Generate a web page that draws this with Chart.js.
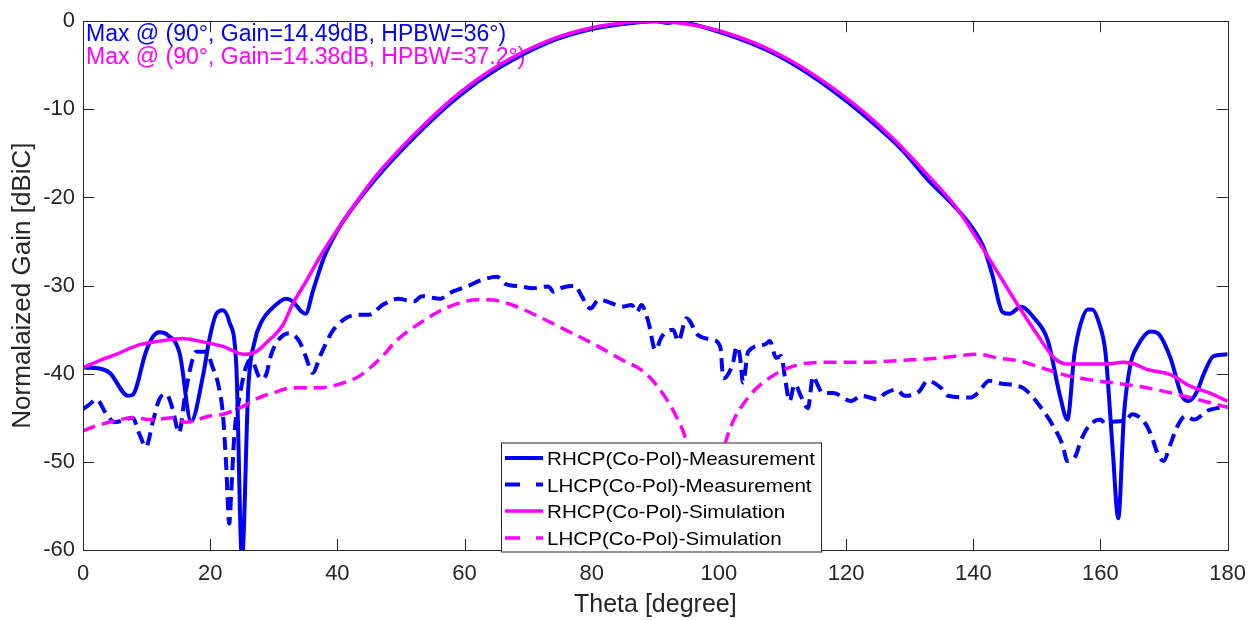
<!DOCTYPE html>
<html lang="en">
<head>
  <meta charset="UTF-8" />
  <title>Normalized Gain vs Theta</title>
  <script src="https://cdn.jsdelivr.net/npm/chart.js"></script>
  <style>
    body { margin: 0; background: #fff; }
    .wrap { width: 1257px; height: 620px; position: relative; }
  </style>
</head>
<body>
  <div class="wrap"><canvas id="gainChart"></canvas></div>
  <script>
    // values (theta in degree, gain in dB)
    const thetaRhcpMeas = [0, 2.6, 4.2, 7.1, 7.8, 9.9, 11, 12, 13.3, 15.2, 17, 18.8, 19.9, 20.9, 22, 23, 24.1, 25, 26, 27, 28, 30.3, 31.9, 33, 34.3, 35, 36.2, 37.9, 39.5, 41, 46, 52.3, 59.1, 65.4, 73.2, 80, 86.3, 90, 92, 93, 100, 109.3, 118.7, 127.1, 129.2, 132.8, 136.5, 139.6, 141.7, 143, 144.6, 145.7, 147.5, 149.6, 151.7, 153.7, 154.8, 155.9, 156.9, 158, 158.7, 159.8, 160.8, 161.9, 162.8, 163.7, 164.7, 165.8, 167.9, 169, 171, 172.8, 173.9, 175.2, 176.2, 177.8, 180];
    const gainRhcpMeas = [-39.3, -39.4, -39.9, -42.5, -42.4, -37.5, -35.8, -35.3, -35.6, -37.7, -45.4, -40.5, -36, -33.3, -32.8, -34.1, -39, -61, -41.5, -36.3, -34.2, -32.2, -31.5, -31.8, -32.9, -33.2, -30.5, -26.8, -24.4, -22.6, -17.9, -13, -8.5, -5.3, -2.4, -0.9, -0.2, 0, -0.2, -0.1, -1.2, -3.9, -8.3, -13.4, -14.9, -17.95, -20.6, -23.2, -25.8, -28.8, -33, -33.2, -32.4, -33.7, -36.2, -42.7, -45.2, -37.8, -34.3, -32.7, -32.7, -34.3, -37.7, -48.4, -56.4, -44.6, -39, -36.9, -35.2, -35.4, -38.2, -42.5, -43.1, -42, -40.1, -38, -37.8];

    const thetaLhcpMeas = [0, 1, 2.1, 3.7, 5, 5.8, 7.8, 8.9, 9.9, 11, 12, 13.1, 14.1, 15.1, 16, 17, 17.8, 19.4, 20.4, 21.2, 22, 22.5, 23, 23.3, 23.8, 24.6, 25.6, 26.4, 28, 28.8, 29.6, 30.6, 32.4, 34, 35, 36.1, 37.4, 39.2, 41.3, 43.4, 45, 47.1, 49.5, 52, 53.3, 56.2, 57.5, 60.7, 62.2, 65.1, 66.4, 69, 70.6, 73.2, 74, 75, 77.4, 78.2, 79.8, 81.1, 83.1, 84.7, 86.3, 87.1, 87.8, 88.9, 90, 91, 92.8, 93.6, 94.9, 96.7, 98.8, 100.2, 100.7, 102.2, 102.8, 103.3, 103.8, 104.6, 107.2, 108, 109, 109.8, 110.4, 111.1, 111.9, 113, 114, 114.8, 115, 116.4, 118, 120.8, 122.4, 125, 126, 127.9, 129.2, 131.5, 132.8, 134.9, 136, 139.6, 140.7, 142.5, 144.3, 147.5, 148.5, 150.6, 152.7, 154, 154.8, 156.1, 156.9, 158.2, 160, 160.8, 161.3, 163.9, 165, 167.1, 168.1, 168.9, 169.9, 171, 172, 173.4, 174.7, 176.8, 178.3, 180];
    const gainLhcpMeas = [-44, -43.5, -42.9, -44.6, -45.5, -45.4, -45, -46.9, -48.3, -45.4, -42.9, -42.3, -44, -46.7, -42.7, -39, -37.5, -37.5, -39.3, -41, -44.6, -50.2, -57, -53.6, -46.9, -42.7, -39.3, -38.4, -40.6, -40.1, -37.8, -36.3, -35.4, -36.3, -38, -39.9, -37.8, -35.2, -33.7, -33.3, -33.3, -32.2, -31.5, -31.8, -31.2, -31.5, -30.9, -30, -29.5, -29, -29.8, -30.1, -30.3, -30.1, -30.7, -30.3, -30, -30.9, -32.6, -31.6, -32, -32.4, -32.2, -33, -32.2, -34.1, -37.3, -35.8, -35, -36.3, -33.7, -35.6, -36.1, -36.9, -40.5, -38.8, -36.9, -38, -41, -37.5, -36.7, -36.3, -38.2, -38, -40.5, -43.1, -41.2, -42.7, -43.9, -40.3, -40.5, -42.2, -42.2, -43.1, -42.5, -42.9, -42.3, -41.8, -42.5, -42, -40.8, -41.6, -42.5, -42.7, -42.2, -40.8, -41.1, -41.5, -42, -43.8, -46.1, -48, -49.9, -49.3, -47.6, -45.9, -45.2, -45.7, -45.5, -45.3, -44.6, -45.7, -47.2, -48.9, -49.9, -48, -46.1, -44.8, -45.2, -44.2, -43.9, -43.8];

    const thetaRhcpSim = [0, 2.6, 5.2, 8.9, 12, 15.7, 18.3, 22, 25.4, 27.2, 28.8, 31.4, 32.9, 35, 37.7, 40.8, 46, 52.3, 59.1, 65.4, 73.2, 80, 86.3, 90, 92.6, 99.9, 109.3, 118.7, 127.1, 133.4, 137.5, 142.2, 147, 150.1, 152.7, 154.8, 160.6, 163.7, 165.3, 167.3, 171, 174.1, 176.8, 180];
    const gainRhcpSim = [-39.3, -38.5, -37.8, -36.7, -36.3, -36, -36.3, -36.9, -37.8, -37.5, -36.5, -34.5, -32.2, -29.6, -26.2, -22.8, -17.6, -12.7, -8.2, -5, -2.2, -0.75, -0.1, 0, -0.1, -1.06, -3.7, -8, -13.1, -17.9, -21.3, -26.6, -32.2, -35.6, -38.2, -38.9, -38.9, -38.7, -38.9, -39.5, -40.1, -41.4, -42.1, -43.1];

    const thetaLhcpSim = [0, 2.1, 4.7, 7.8, 11, 14.1, 16.2, 19.9, 22, 24.6, 27.7, 29.8, 32.9, 37.1, 39.2, 41.8, 43.4, 47.1, 49.2, 53.3, 57.5, 62.2, 63.8, 67.5, 71.6, 75.8, 80.5, 84.7, 88.4, 91.5, 93.6, 94.6, 96, 97.5, 99.5, 101.7, 104.6, 108.3, 112.4, 116.6, 122.9, 128.6, 134.9, 140.7, 143.8, 147.5, 150.6, 155.3, 159.5, 165.8, 170, 175.2, 178.3, 180];
    const gainLhcpSim = [-46.5, -45.9, -45.4, -45, -45.2, -45, -45.5, -44.8, -44.6, -43.9, -42.7, -42.2, -41.6, -41.6, -41.4, -40.8, -40.3, -38, -36.3, -34.1, -32.4, -31.6, -31.6, -32.2, -33.5, -35, -36.7, -38.4, -39.9, -42.6, -45.3, -47, -51, -58, -52, -46.3, -42.7, -40.3, -39, -38.7, -38.7, -38.5, -38.2, -37.8, -38.2, -38.6, -39.3, -40.3, -40.8, -41.4, -42, -42.9, -43.5, -43.8];

    const seriesNames = ['RHCP(Co-Pol)-Measurement', 'LHCP(Co-Pol)-Measurement', 'RHCP(Co-Pol)-Simulation', 'LHCP(Co-Pol)-Simulation'];
    const maxNotes = ['Max @ (90°, Gain=14.49dB, HPBW=36°)', 'Max @ (90°, Gain=14.38dB, HPBW=37.2°)'];

    const BLUE = '#0000ff';
    const MAGENTA = '#ff00ff';
    const AXIS = '#262626';
    const FONT = "'Liberation Sans', Arial, sans-serif";

    const pts = (xs, ys) => xs.map((x, i) => ({ x: x, y: ys[i] }));

    const styles = [
      { color: BLUE, width: 4, dash: [] },
      { color: BLUE, width: 4, dash: [13, 7] },
      { color: MAGENTA, width: 3.5, dash: [] },
      { color: MAGENTA, width: 3.5, dash: [13, 7] }
    ];

    // inward ticks on all four sides + box, like a matlab axes
    const boxTicks = {
      id: 'boxTicks',
      afterDraw(chart) {
        const { ctx, chartArea: a, scales: { x, y } } = chart;
        ctx.save();
        ctx.strokeStyle = AXIS;
        ctx.lineWidth = 1;
        ctx.beginPath();
        x.ticks.forEach(t => {
          const px = Math.round(x.getPixelForValue(t.value)) + 0.5;
          ctx.moveTo(px, a.bottom); ctx.lineTo(px, a.bottom - 11);
          ctx.moveTo(px, a.top); ctx.lineTo(px, a.top + 11);
        });
        y.ticks.forEach(t => {
          const py = Math.round(y.getPixelForValue(t.value)) + 0.5;
          ctx.moveTo(a.left, py); ctx.lineTo(a.left + 11, py);
          ctx.moveTo(a.right, py); ctx.lineTo(a.right - 11, py);
        });
        ctx.stroke();
        ctx.strokeRect(Math.round(a.left) + 0.5, Math.round(a.top) + 0.5, Math.round(a.right - a.left), Math.round(a.bottom - a.top));

        // legend box (opaque, sits over the lines)
        const lx = 501, ly = 442.5, lw = 320, lh = 109;
        ctx.fillStyle = '#fff';
        ctx.fillRect(lx, ly, lw, lh);
        ctx.strokeRect(lx + 0.5, ly + 0.5, lw, lh);
        ctx.font = '19px ' + FONT;
        const sx = 268 / ctx.measureText(seriesNames[0]).width;
        const rows = [458, 484.5, 511, 538];
        seriesNames.forEach((name, i) => {
          const s = styles[i];
          ctx.beginPath();
          ctx.strokeStyle = s.color;
          ctx.lineWidth = s.width;
          ctx.setLineDash(s.dash.length ? [15, 16] : []);
          ctx.moveTo(505, rows[i]); ctx.lineTo(543, rows[i]);
          ctx.stroke();
          ctx.setLineDash([]);
          ctx.save();
          ctx.translate(547, rows[i] + 7);
          ctx.scale(sx, 1);
          ctx.fillStyle = '#000';
          ctx.textBaseline = 'alphabetic';
          ctx.fillText(name, 0, 0);
          ctx.restore();
        });
        ctx.restore();
      },
      beforeDatasetsDraw(chart) {
        const { ctx, chartArea: a } = chart;
        ctx.save();
        ctx.font = '23px ' + FONT;
        ctx.textBaseline = 'alphabetic';
        ctx.fillStyle = BLUE;
        ctx.fillText(maxNotes[0], a.left + 3, 41);
        ctx.fillStyle = MAGENTA;
        ctx.fillText(maxNotes[1], a.left + 3, 64);
        ctx.restore();
      }
    };

    const datasets = [
      { label: seriesNames[0], data: pts(thetaRhcpMeas, gainRhcpMeas), order: 4 },
      { label: seriesNames[1], data: pts(thetaLhcpMeas, gainLhcpMeas), order: 3 },
      { label: seriesNames[2], data: pts(thetaRhcpSim, gainRhcpSim), order: 2 },
      { label: seriesNames[3], data: pts(thetaLhcpSim, gainLhcpSim), order: 1 }
    ].map((d, i) => Object.assign(d, {
      borderColor: styles[i].color,
      borderWidth: styles[i].width,
      borderDash: styles[i].dash,
      pointRadius: 0,
      fill: false,
      cubicInterpolationMode: 'monotone'
    }));

    new Chart(document.getElementById('gainChart'), {
      type: 'line',
      data: { datasets: datasets },
      options: {
        responsive: true,
        maintainAspectRatio: false,
        animation: false,
        layout: { padding: { top: 17, right: 27, left: 0, bottom: 0 } },
        plugins: { legend: { display: false }, tooltip: { enabled: false } },
        scales: {
          x: {
            type: 'linear', min: 0, max: 180,
            ticks: { stepSize: 20, color: AXIS, padding: 11, font: { family: FONT, size: 22 }, maxRotation: 0 },
            grid: { display: true, drawOnChartArea: false, drawTicks: false },
            border: { display: true, color: AXIS },
            title: { display: true, text: 'Theta [degree]', color: AXIS, font: { family: FONT, size: 25 }, padding: { top: 0, bottom: 0 } },
            afterFit(scale) { scale.height = 70; }
          },
          y: {
            type: 'linear', min: -60, max: 0,
            ticks: { stepSize: 10, color: AXIS, padding: 8, font: { family: FONT, size: 22 } },
            grid: { display: true, drawOnChartArea: false, drawTicks: false },
            border: { display: true, color: AXIS },
            title: { display: true, text: 'Normalaized Gain [dBiC]', color: AXIS, font: { family: FONT, size: 26 }, padding: { top: 7, bottom: 0 } },
            afterFit(scale) { scale.width = 83; }
          }
        }
      },
      plugins: [boxTicks]
    });
  </script>
</body>
</html>
